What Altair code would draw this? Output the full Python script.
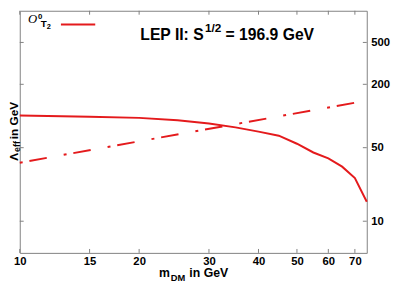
import altair as alt
import pandas as pd

# ---- data ----
mdm = [10, 15, 20, 25, 30, 35, 40, 45, 50, 55, 60, 65, 70, 75]
lam_limit = [101, 98.5, 96, 91, 85, 78, 71, 65, 54.5, 45, 39.5, 33, 25.7, 15.3]
mdm_unit = [10, 75]
lam_unit = [36, 140]
xtick_vals = [10, 15, 20, 30, 40, 50, 60, 70]
ytick_vals = [10, 50, 200, 500]

RED = "#e41a1c"
GRAY = "#808080"
FONT = "Liberation Sans"
W, H = 354, 247

xs = alt.Scale(type="log", domain=[10, 75], nice=False)
ys = alt.Scale(type="log", domain=[5, 1000], nice=False)

df_solid = pd.DataFrame({"x": mdm, "y": lam_limit})
df_dash = pd.DataFrame({"x": mdm_unit, "y": lam_unit})
df_xt = pd.DataFrame({"x": xtick_vals})
df_yt = pd.DataFrame({"y": ytick_vals})
one = alt.Data(values=[{}])

solid = alt.Chart(df_solid).mark_line(color=RED, strokeWidth=2).encode(
    x=alt.X("x:Q", scale=xs, axis=alt.Axis(
        values=xtick_vals, format="d", ticks=False, domain=False, grid=False,
        labelFont=FONT, labelFontWeight="bold", labelFontSize=11.5, labelColor="black",
        labelPadding=3, labelFlush=False, labelOverlap=False, title=None)),
    y=alt.Y("y:Q", scale=ys, axis=alt.Axis(
        orient="right", values=ytick_vals, format="d", ticks=False, domain=False, grid=False,
        labelFont=FONT, labelFontWeight="bold", labelFontSize=11.5, labelColor="black",
        labelPadding=4, labelFlush=False, labelOverlap=False, title=None)),
)

dash = alt.Chart(df_dash).mark_line(color=RED, strokeWidth=2, strokeDash=[3, 7, 18, 17.5]).encode(
    x=alt.X("x:Q", scale=xs), y=alt.Y("y:Q", scale=ys))

tick_style = dict(color=GRAY, strokeWidth=1)
xt_bot = alt.Chart(df_xt).mark_rule(**tick_style).encode(
    x=alt.X("x:Q", scale=xs), y=alt.value(H), y2=alt.value(H - 4))
xt_top = alt.Chart(df_xt).mark_rule(**tick_style).encode(
    x=alt.X("x:Q", scale=xs), y=alt.value(0), y2=alt.value(4))
yt_right = alt.Chart(df_yt).mark_rule(**tick_style).encode(
    y=alt.Y("y:Q", scale=ys), x=alt.value(W), x2=alt.value(W - 4))
yt_left = alt.Chart(df_yt).mark_rule(**tick_style).encode(
    y=alt.Y("y:Q", scale=ys), x=alt.value(0), x2=alt.value(4))


def txt(s, x, y, size, weight="bold", angle=0, font=FONT, style="normal"):
    return alt.Chart(one).mark_text(
        align="left", baseline="alphabetic", font=font, fontSize=size,
        fontWeight=weight, fontStyle=style, angle=angle, color="black"
    ).encode(x=alt.value(x), y=alt.value(y), text=alt.value(s))


texts = [
    # legend
    txt("O", 8.5, 12, 13, weight="normal", font="Liberation Serif", style="italic"),
    txt("0", 18.5, 8, 8),
    txt("T", 21.5, 17, 10),
    txt("2", 27.5, 19, 7.5),
    # title
    txt("LEP II: S", 123, 29.5, 16),
    txt("1/2", 189, 22, 12),
    txt("= 196.9 GeV", 210, 29.5, 16),
    # x title
    txt("m", 142, 272, 12.5),
    txt("DM", 154, 276, 9.5),
    txt("in GeV", 173, 272, 12.5),
    # y title
    txt("Λ", -1.5, 153, 12, angle=270),
    txt("eff", 0.5, 144, 9, angle=270),
    txt("in GeV", -1.5, 131, 12, angle=270),
]

leg_line = alt.Chart(one).mark_rule(color=RED, strokeWidth=2).encode(
    x=alt.value(42), x2=alt.value(77), y=alt.value(14))

chart = alt.layer(
    solid, dash, xt_bot, xt_top, yt_right, yt_left, leg_line, *texts
).properties(
    width=W, height=H,
    autosize=alt.AutoSizeParams(type="none"),
    padding={"left": 12, "top": 0, "right": 39, "bottom": 34},
    background="white",
).configure_view(stroke=GRAY, strokeWidth=1)

chart.save("out.html", embed_options={"renderer": "svg", "actions": False})
